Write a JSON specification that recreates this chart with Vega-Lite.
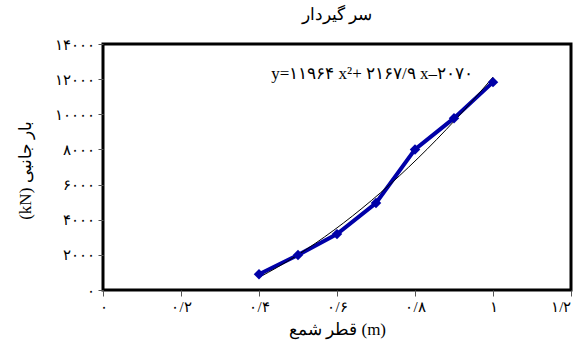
{
  "$schema": "https://vega.github.io/schema/vega-lite/v6.json",
  "autosize": "none",
  "width": 468,
  "height": 246,
  "padding": {"left": 103, "top": 44, "right": 8, "bottom": 58},
  "background": "white",
  "config": {
    "font": "Liberation Serif",
    "view": {"stroke": "black", "strokeWidth": 3},
    "axis": {"grid": false, "domain": false, "labelFont": "Liberation Serif", "titleFont": "Liberation Serif", "labelColor": "black", "titleColor": "black", "tickColor": "#555", "titleFontWeight": "normal"}
  },
  "title": {"text": "سر گیردار", "fontSize": 17, "fontWeight": "normal", "font": "Liberation Serif", "offset": 13, "color": "black"},
  "datasets": {
    "pts": [
      {"d": 0.4, "load": 900},
      {"d": 0.5, "load": 1990},
      {"d": 0.6, "load": 3180},
      {"d": 0.7, "load": 4950},
      {"d": 0.8, "load": 8000},
      {"d": 0.9, "load": 9780},
      {"d": 1.0, "load": 11830}
    ],
    "note": [{"d": 0.69, "load": 12300, "label": "y=۱۱۹۶۴ x²+ ۲۱۶۷/۹ x–۲۰۷۰"}]
  },
  "encoding": {
    "x": {
      "field": "d", "type": "quantitative",
      "scale": {"domain": [0, 1.2], "nice": false, "zero": false},
      "axis": {
        "title": "قطر شمع (m)", "titleFontSize": 17, "titlePadding": 7,
        "values": [0, 0.2, 0.4, 0.6, 0.8, 1, 1.2],
        "labelExpr": "datum.value < 0.1 ? '۰' : datum.value < 0.3 ? '۰/۲' : datum.value < 0.5 ? '۰/۴' : datum.value < 0.7 ? '۰/۶' : datum.value < 0.9 ? '۰/۸' : datum.value < 1.1 ? '۱' : '۱/۲'",
        "labelAlign": {"condition": {"test": "datum.value > 1.1", "value": "right"}, "value": "center"},
        "labelFontSize": 15, "labelPadding": 3, "tickSize": 6, "labelFlush": false
      }
    },
    "y": {
      "field": "load", "type": "quantitative",
      "scale": {"domain": [0, 14000], "nice": false},
      "axis": {
        "title": "(kN) بار جانبی", "titleFontSize": 17, "titleX": -78, "titleY": 126, "titleAngle": -90, "titleBaseline": "middle",
        "values": [0, 2000, 4000, 6000, 8000, 10000, 12000, 14000],
        "labelExpr": "datum.value == 0 ? '۰' : datum.value == 2000 ? '۲۰۰۰' : datum.value == 4000 ? '۴۰۰۰' : datum.value == 6000 ? '۶۰۰۰' : datum.value == 8000 ? '۸۰۰۰' : datum.value == 10000 ? '۱۰۰۰۰' : datum.value == 12000 ? '۱۲۰۰۰' : '۱۴۰۰۰'",
        "labelFontSize": 15, "labelPadding": 4, "tickSize": 5
      }
    }
  },
  "layer": [
    {
      "data": {"name": "pts"},
      "mark": {"type": "line", "color": "#0000A8", "strokeWidth": 4}
    },
    {
      "data": {"name": "pts"},
      "transform": [{"regression": "load", "on": "d", "method": "poly", "order": 2, "extent": [0.4, 1.0]}],
      "mark": {"type": "line", "color": "black", "strokeWidth": 1}
    },
    {
      "data": {"name": "pts"},
      "mark": {"type": "point", "shape": "diamond", "filled": true, "color": "#0000A8", "size": 110, "opacity": 1}
    },
    {
      "data": {"name": "note"},
      "mark": {"type": "text", "fontSize": 17, "font": "Liberation Serif", "color": "black"},
      "encoding": {"text": {"field": "label"}}
    }
  ]
}
